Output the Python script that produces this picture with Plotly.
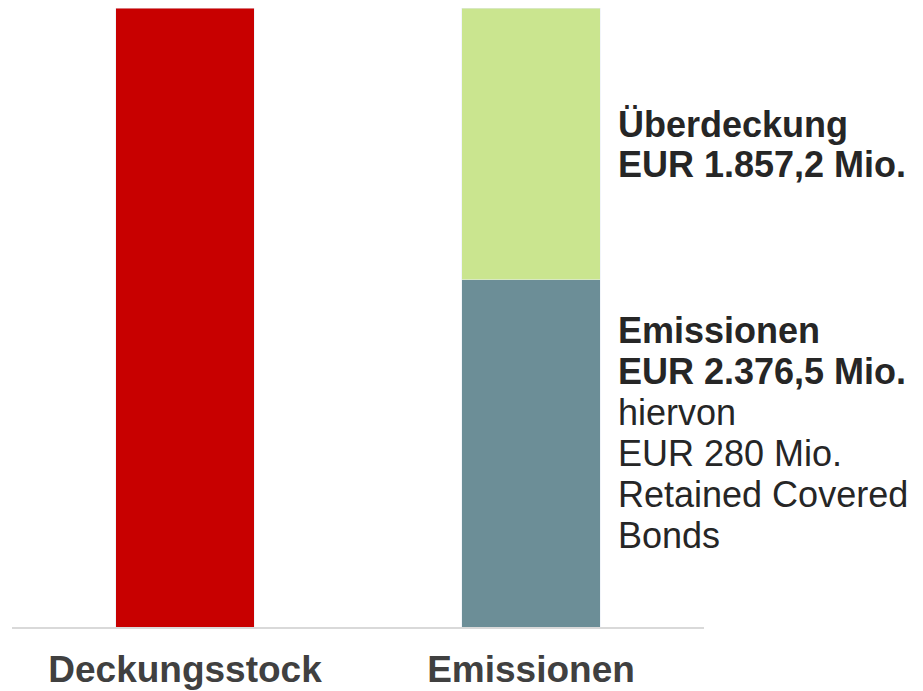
import plotly.graph_objects as go

categories = ["Deckungsstock", "Emissionen"]
emissionen = 2376.5
ueberdeckung = 1857.2
deckungsstock = emissionen + ueberdeckung

label_lines = [
    ("Überdeckung", True, 124.5),
    ("EUR 1.857,2 Mio.", True, 164.5),
    ("Emissionen", True, 330.5),
    ("EUR 2.376,5 Mio.", True, 371.5),
    ("hiervon", False, 412.5),
    ("EUR 280 Mio.", False, 453.5),
    ("Retained Covered", False, 494.5),
    ("Bonds", False, 535.5),
]

W, H = 923, 691
OFF = 8  # page body margin
ml, mr, mt, mb = 4, 227, 0, 72
plot_h = H - mt - mb
plot_w = W - ml - mr
FONT = "Arial, Liberation Sans, sans-serif"

fig = go.Figure()
fig.add_trace(go.Bar(x=[categories[0]], y=[deckungsstock], marker_color="#C80000",
                     width=0.4, name="Deckungsstock"))
fig.add_trace(go.Bar(x=[categories[1]], y=[emissionen], marker_color="#6C8E97",
                     width=0.4, name="Emissionen"))
fig.add_trace(go.Bar(x=[categories[1]], y=[ueberdeckung], marker_color="#CAE58F",
                     width=0.4, name="Überdeckung"))

for text, bold, py in label_lines:
    fig.add_annotation(
        text=f"<b>{text}</b>" if bold else text,
        xref="paper", yref="paper",
        x=(608 - ml) / plot_w, y=(H - mb - (py - OFF)) / plot_h,
        xanchor="left", yanchor="middle",
        showarrow=False,
        font=dict(family=FONT, size=36, color="#262626"),
    )

fig.update_layout(
    width=W, height=H,
    margin=dict(l=ml, r=mr, t=mt, b=mb, pad=0),
    barmode="stack",
    showlegend=False,
    paper_bgcolor="white",
    plot_bgcolor="white",
)
fig.update_xaxes(
    range=[-0.5, 1.5],
    showline=True, linecolor="#D9D9D9", linewidth=2,
    showgrid=False, zeroline=False, ticks="",
    tickfont=dict(family=FONT, size=37, color="#404040", weight="bold"),
    ticklabelstandoff=9,
)
fig.update_yaxes(
    range=[0, deckungsstock],
    visible=False, showgrid=False, zeroline=False,
)

fig.write_html("out.html")
